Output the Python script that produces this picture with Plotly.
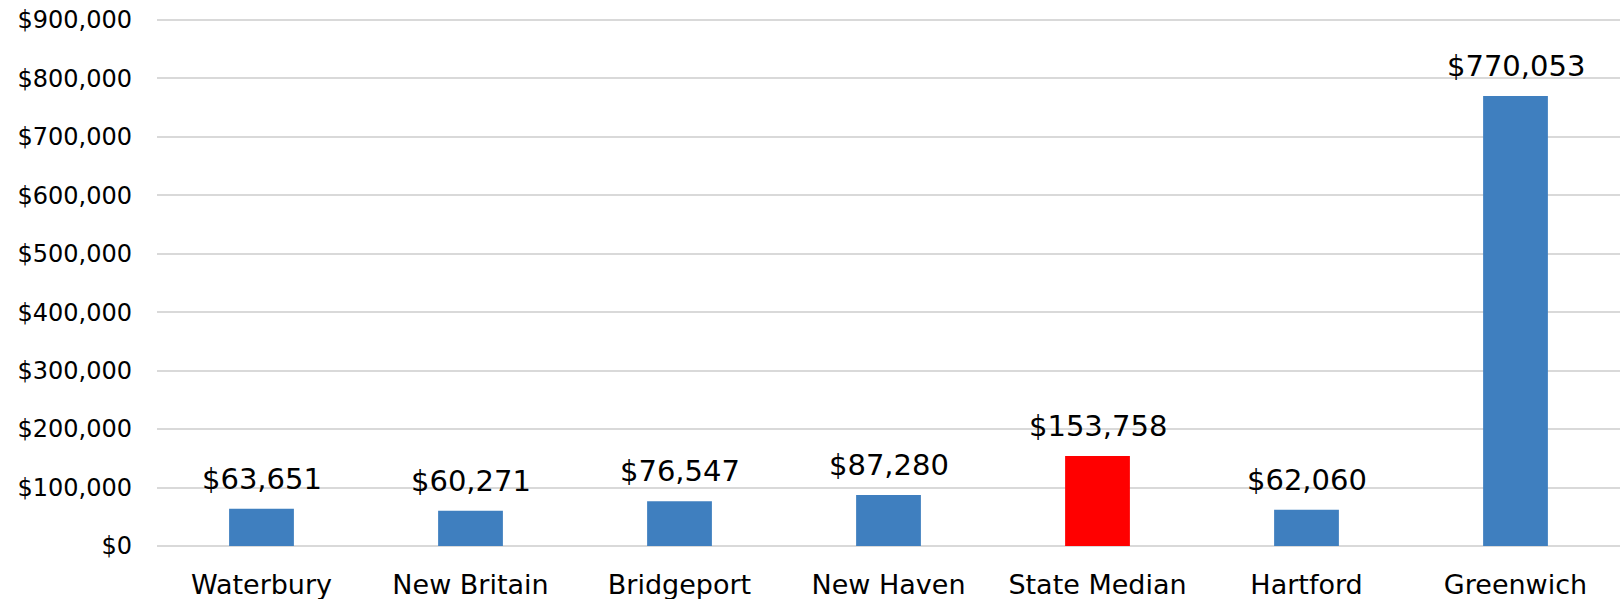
import plotly.graph_objects as go

categories = ["Waterbury", "New Britain", "Bridgeport", "New Haven", "State Median", "Hartford", "Greenwich"]
values = [63651, 60271, 76547, 87280, 153758, 62060, 770053]
bar_colors = ["#3F7FBF", "#3F7FBF", "#3F7FBF", "#3F7FBF", "#FF0000", "#3F7FBF", "#3F7FBF"]
tick_vals = [0, 100000, 200000, 300000, 400000, 500000, 600000, 700000, 800000, 900000]
tick_text = ["$" + format(v, ",") for v in tick_vals]
labels = ["$" + format(v, ",") for v in values]

FONT = "DejaVu Sans"

fig = go.Figure()
fig.add_trace(go.Bar(
    x=categories, y=values,
    marker=dict(color=bar_colors, line=dict(width=0)),
    width=0.31,
))
for c, v, t in zip(categories, values, labels):
    fig.add_annotation(x=c, y=v, text=t, showarrow=False, yanchor="bottom",
                       yshift=11, font=dict(family=FONT, size=29, color="#000000"))

fig.update_layout(
    width=1622, height=599,
    margin=dict(l=157, r=2, t=17, b=53),
    plot_bgcolor="white", paper_bgcolor="white",
    showlegend=False,
    font=dict(family=FONT, color="#000000"),
)
fig.update_yaxes(range=[0, 905000], tickvals=tick_vals, ticktext=tick_text,
                 showgrid=True, gridcolor="#D9D9D9", gridwidth=2,
                 zeroline=True, zerolinecolor="#D9D9D9", zerolinewidth=2,
                 tickfont=dict(family=FONT, size=24, color="#000000"),
                 ticklabelstandoff=24, ticklabeloverflow="allow",
                 showline=False, automargin=False)
fig.update_xaxes(tickfont=dict(family=FONT, size=27, color="#000000"),
                 ticklabelstandoff=20, ticklabeloverflow="allow",
                 showline=False, showgrid=False, automargin=False)

fig.write_html("out.html",
               config={"displayModeBar": False},
               post_script="document.body.style.margin='0';document.body.style.overflow='hidden';")
